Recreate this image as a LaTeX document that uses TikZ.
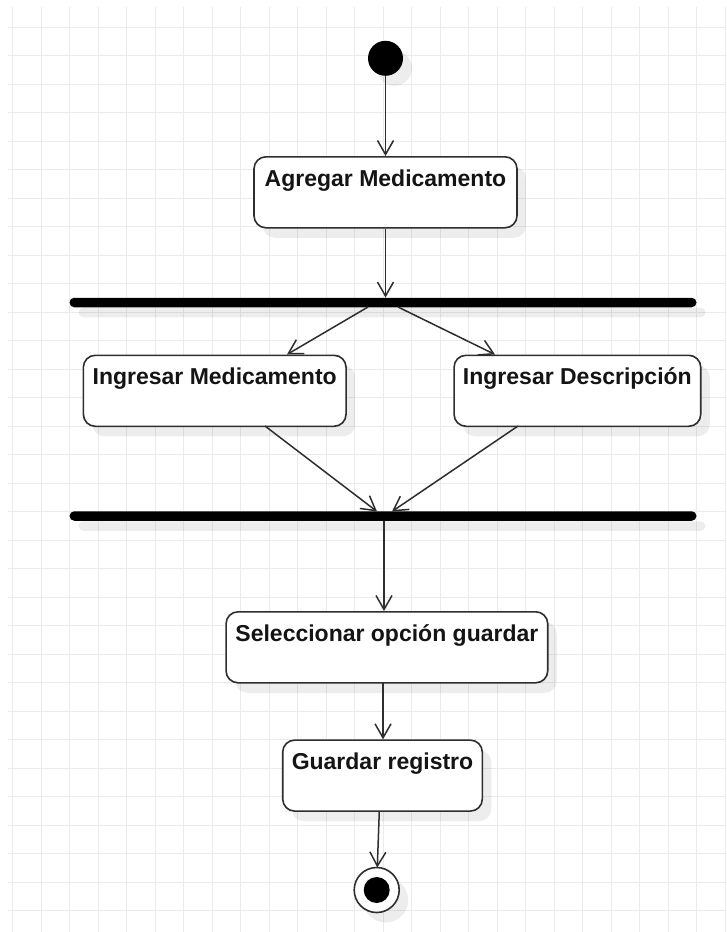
\documentclass[tikz,border=0pt]{standalone}
\usepackage{fontspec}
\setmainfont{Liberation Sans}
\usetikzlibrary{arrows.meta,shadows}
\definecolor{gridc}{HTML}{EBEBEB}
\definecolor{edge}{HTML}{2E2E2E}
\begin{document}
\begin{tikzpicture}[x=1pt,y=-1pt,
  softshadow/.style={drop shadow={shadow xshift=9pt,shadow yshift=-10pt,fill=black,opacity=0.07}},
  act/.style={draw=edge, line width=1.6pt, fill=white, rounded corners=12pt,
    inner xsep=0pt, inner ysep=0pt, text height=29.5pt, text depth=41.5pt,
    font=\fontsize{23}{27}\selectfont\bfseries, text=black!92, anchor=north, softshadow},
  bar/.style={fill=black, draw=none, minimum height=9.5pt, inner sep=0pt,
    rounded corners=4.75pt, softshadow},
  startdot/.style={circle, fill=black, draw=none, minimum size=35pt, inner sep=0pt, softshadow},
  enddot/.style={circle, fill=white, draw=edge, line width=1.6pt, minimum size=45pt, inner sep=0pt, softshadow},
  flow/.style={draw=edge, line width=1.5pt,
    -{Straight Barb[length=14pt,width=16pt,line width=1.5pt]}}]
\useasboundingbox (0,0) rectangle (726,932);
% background grid
\fill[white] (0,0) rectangle (726,932);
\foreach \i in {0,...,25}
  \draw[gridc, line width=1pt] ({12.5+28.5*\i},7) -- ({12.5+28.5*\i},932);
\foreach \j in {0,...,31}
  \draw[gridc, line width=1pt] (8,{27.3+28.5*\j}) -- (726,{27.3+28.5*\j});

% start and end states
\node[startdot] (init) at (385.5,58.3) {};
\node[enddot] (fin) at (376.7,890) {};
\fill[black] (fin.center) circle[radius=13pt];

% activities
\node[act, minimum width=263pt] (ag) at (385.5,156) {Agregar Medicamento};
\node[act, minimum width=262.7pt] (im) at (214.7,354.5) {Ingresar Medicamento};
\node[act, minimum width=246.7pt] (id) at (577.4,354.5) {Ingresar Descripción};
\node[act, minimum width=321.7pt] (sel) at (386.9,611) {Seleccionar opción guardar};
\node[act, minimum width=199.6pt] (gr) at (382.5,739.3) {Guardar registro};

% fork and join bars
\node[bar, minimum width=627pt] (fork) at (383,302.5) {};
\node[bar, minimum width=627pt] (join) at (383,516) {};

% connector end points on the bars and boxes
\coordinate (forkL) at (368,307);
\coordinate (forkR) at (398,307);
\coordinate (imIn) at (287,354.5);
\coordinate (idIn) at (495,354.5);
\coordinate (imOut) at (265,426);
\coordinate (idOut) at (518,426);
\coordinate (joinL) at (377,511.5);
\coordinate (joinR) at (392,511.5);
\coordinate (joinOut) at (384,520.5);
\coordinate (selIn) at (384,611);
\coordinate (selOut) at (383,682.5);
\coordinate (grIn) at (383,739.3);
\coordinate (grOut) at (379.3,810.8);
\coordinate (finIn) at (377.3,867.5);

% connectors
\draw[flow] (init.south) -- (ag.north);
\draw[flow] (ag.south) -- (ag.south |- fork.north);
\draw[flow] (forkL) -- (imIn);
\draw[flow] (forkR) -- (idIn);
\draw[flow] (imOut) -- (joinL);
\draw[flow] (idOut) -- (joinR);
\draw[flow] (joinOut) -- (selIn);
\draw[flow] (selOut) -- (grIn);
\draw[flow] (grOut) -- (finIn);
\end{tikzpicture}
\end{document}
